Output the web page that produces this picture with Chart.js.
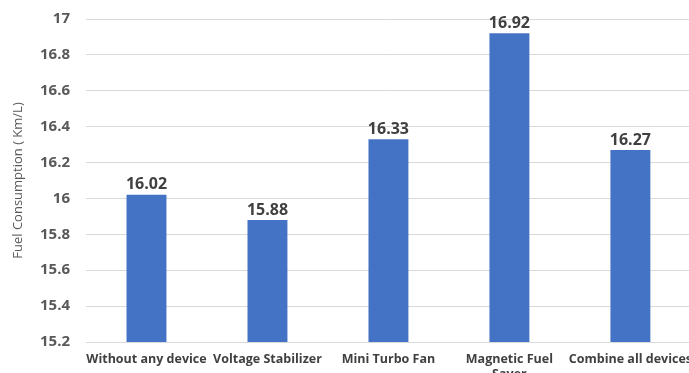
<!DOCTYPE html>
<html>
<head>
<meta charset="utf-8">
<script src="https://cdn.jsdelivr.net/npm/chart.js@4"></script>
<style>
  html, body { margin: 0; padding: 0; background: #fff; overflow: hidden; }
  #wrap { width: 694px; height: 391px; margin-top: -6px; position: relative; }
</style>
</head>
<body>
<div id="wrap"><canvas id="myChart"></canvas></div>
<script>
var categories = [
  'Without any device',
  'Voltage Stabilizer',
  'Mini Turbo Fan',
  ['Magnetic Fuel', 'Saver'],
  'Combine all devices'
];
var consumption = [16.02, 15.88, 16.33, 16.92, 16.27];
var yMin = 15.2;
var yMax = 17;
var yStep = 0.2;

// draws the value above each bar
var barLabels = {
  id: 'barLabels',
  afterDatasetsDraw(chart) {
    var ctx = chart.ctx;
    var meta = chart.getDatasetMeta(0);
    ctx.save();
    ctx.font = 'bold 16px "Open Sans", "Liberation Sans", sans-serif';
    ctx.fillStyle = '#404040';
    ctx.textAlign = 'center';
    ctx.textBaseline = 'bottom';
    meta.data.forEach(function(bar, i) {
      ctx.fillText(consumption[i].toFixed(2), bar.x, bar.y - 2);
    });
    ctx.restore();
  }
};

var ctx = document.getElementById('myChart');
var myChart = new Chart(ctx, {
  type: 'bar',
  data: {
    labels: categories,
    datasets: [{
      data: consumption,
      backgroundColor: '#4472C4',
      categoryPercentage: 1,
      barPercentage: 0.33
    }]
  },
  options: {
    responsive: true,
    maintainAspectRatio: false,
    animation: false,
    layout: { padding: { top: 0, right: 0, left: 10, bottom: 0 } },
    plugins: {
      legend: { display: false },
      tooltip: { enabled: false }
    },
    scales: {
      x: {
        grid: { display: false },
        border: { color: '#d9d9d9' },
        ticks: {
          color: '#404040',
          font: { family: '"Open Sans", "Liberation Sans", sans-serif', size: 12.5, weight: 'bold' },
          maxRotation: 0,
          autoSkip: false,
          padding: 2
        },
        afterFit: function(s) { s.height = 43; }
      },
      y: {
        min: yMin,
        max: yMax,
        grid: { color: '#d9d9d9', drawTicks: false },
        border: { display: false },
        ticks: {
          stepSize: yStep,
          color: '#595959',
          padding: 16,
          font: { family: '"Open Sans", "Liberation Sans", sans-serif', size: 15, weight: 'bold' },
          callback: function(v) { return String(parseFloat(v.toFixed(1))); }
        },
        title: {
          display: true,
          text: 'Fuel Consumption ( Km/L)',
          color: '#595959',
          font: { family: '"Open Sans", "Liberation Sans", sans-serif', size: 13 },
          padding: { top: 0, bottom: 4 }
        },
        afterFit: function(s) { s.width = 76; }
      }
    }
  },
  plugins: [barLabels]
});
</script>
</body>
</html>
